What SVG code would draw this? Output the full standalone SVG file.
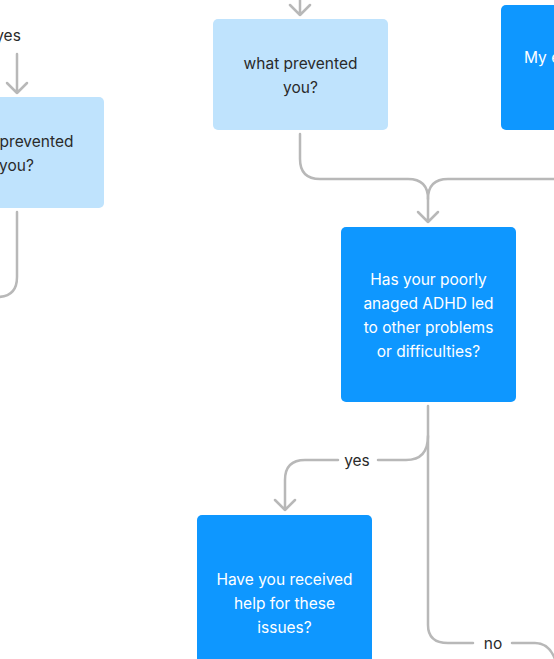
<svg xmlns="http://www.w3.org/2000/svg" width="554" height="659" viewBox="0 0 554 659">
<style>
.light{fill:#BFE3FD}
.dark{fill:#0E97FF}
.t{font-family:Inter,"Liberation Sans",sans-serif;font-size:15.5px;text-anchor:middle}
.td{fill:#2A2A2A}
.tw{fill:#FFFFFF}
.c{fill:none;stroke:#B8B8B8;stroke-width:2.5;stroke-linecap:round;stroke-linejoin:round}
.lbl{font-family:Inter,"Liberation Sans",sans-serif;font-size:15.5px;fill:#2A2A2A;text-anchor:middle}
</style>
<rect width="554" height="659" fill="#FFFFFF"/>
<g id="connectors">
  <path class="c" d="M17 54 V93 M7 83 L17 93 L27 83"/>
  <path class="c" d="M17 212 V277 Q17 297 -3 297"/>
  <path class="c" d="M300 -2 V15 M290 5 L300 15 L310 5"/>
  <path class="c" d="M300 134 V159 Q300 179 320 179 H408 Q428 179 428 199 V222 M418 212 L428 222 L438 212"/>
  <path class="c" d="M556 179 H448 Q428 179 428 199"/>
  <path class="c" d="M428 406 V625 Q428 643 448 643 H473"/>
  <path class="c" d="M428 436 Q428 460 406 460 H378"/>
  <path class="c" d="M338 460 H305 Q285 460 285 480 V510 M275 500 L285 510 L295 500"/>
  <path class="c" d="M512 643 H535 Q550 643 556 662"/>
  <text class="lbl" x="8" y="41">yes</text>
  <text class="lbl" x="357" y="466">yes</text>
  <text class="lbl" x="493" y="649">no</text>
</g>
<g id="node-left">
  <rect class="light" x="-71" y="97" width="175" height="111" rx="5"/>
  <text class="t td" x="16.5" y="147">what prevented</text>
  <text class="t td" x="16.5" y="171">you?</text>
</g>
<g id="node-middle">
  <rect class="light" x="213" y="19" width="175" height="111" rx="5"/>
  <text class="t td" x="300.5" y="69">what prevented</text>
  <text class="t td" x="300.5" y="93">you?</text>
</g>
<g id="node-topright">
  <rect class="dark" x="501" y="5" width="120" height="125" rx="5"/>
  <text class="t tw" x="524" y="63" style="text-anchor:start">My e</text>
</g>
<g id="node-main">
  <rect class="dark" x="341" y="227" width="175" height="175" rx="5"/>
  <text class="t tw" x="428.5" y="285">Has your poorly</text>
  <text class="t tw" x="428.5" y="309">anaged ADHD led</text>
  <text class="t tw" x="428.5" y="333">to other problems</text>
  <text class="t tw" x="428.5" y="357">or difficulties?</text>
</g>
<g id="node-bottom">
  <rect class="dark" x="197" y="515" width="175" height="175" rx="5"/>
  <text class="t tw" x="284.5" y="585">Have you received</text>
  <text class="t tw" x="284.5" y="609">help for these</text>
  <text class="t tw" x="284.5" y="633">issues?</text>
</g>
</svg>
